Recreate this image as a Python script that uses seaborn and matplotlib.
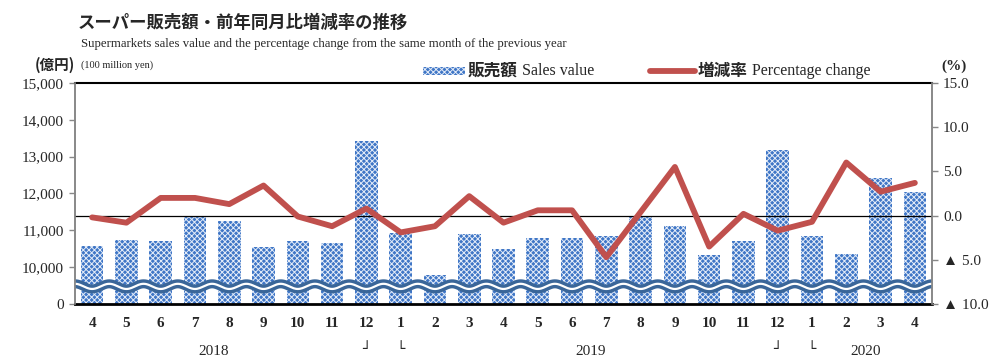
import numpy as np
import pandas as pd
import matplotlib
matplotlib.use("Agg")
import matplotlib.pyplot as plt
import matplotlib.ticker as mticker
from matplotlib.patches import Rectangle
from matplotlib.lines import Line2D
import seaborn as sns

# ---------------- data ----------------
months = ["4", "5", "6", "7", "8", "9", "10", "11", "12", "1", "2", "3",
          "4", "5", "6", "7", "8", "9", "10", "11", "12", "1", "2", "3", "4"]
sales = [10580, 10750, 10720, 11400, 11260, 10560, 10720, 10670, 13430,
         10940, 9780, 10910, 10500, 10800, 10780, 10860, 11350, 11130,
         10320, 10700, 13190, 10860, 10370, 12430, 12050]
pct = [-0.2, -0.8, 2.0, 2.0, 1.3, 3.4, -0.1, -1.2, 0.8, -1.9, -1.2, 2.2,
       -0.8, 0.6, 0.6, -4.7, 0.4, 5.5, -3.5, 0.2, -1.7, -0.7, 6.0, 2.7, 3.7]
years = ["2018", "2019", "2020"]
year_pos = [3.55, 14.55, 22.55]
left_ticks = [9000, 10000, 11000, 12000, 13000, 14000, 15000]
left_labels = ["0", "10,000", "11,000", "12,000", "13,000", "14,000", "15,000"]
right_ticks = [-10, -5, 0, 5, 10, 15]

title = "スーパー販売額・前年同月比増減率の推移"
subtitle = "Supermarkets sales value and the percentage change from the same month of the previous year"

BAR = "#3f76c6"
HATCH = "#e4ecf8"
RED = "#c0504d"

# ---------------- style ----------------
sns.set_theme(style="white")
plt.rcParams["font.family"] = ["Liberation Serif", "Noto Sans CJK JP", "DejaVu Sans"]
plt.rcParams["hatch.linewidth"] = 0.7

n = len(months)
df = pd.DataFrame({"pos": [str(i) for i in range(n)], "idx": np.arange(n),
                   "sales": sales, "pct": pct})

fig = plt.figure(figsize=(10, 3.62), dpi=100)
ax = fig.add_axes([0.075, 0.160, 0.857, 0.611])

sns.barplot(data=df, x="pos", y="sales", ax=ax, color=BAR,
            width=0.66, saturation=1)
for p in ax.patches:
    p.set_hatch("xxxxxx")
    p.set_edgecolor(HATCH)
    p.set_linewidth(0)
    p.set_facecolor(BAR)

ax.set_xlim(-0.5, n - 0.5)
ax.set_ylim(9000, 15000)
ax.set_yticks(left_ticks)
ax.set_yticklabels(left_labels)
ax.set_xticks(range(n))
ax.set_xticklabels(months, fontweight="bold")
ax.set_xlabel("")
ax.set_ylabel("")
ax.tick_params(axis="x", length=0, pad=9, labelsize=11)
ax.tick_params(axis="y", length=4, width=1, color="#888888", direction="out",
               labelsize=11, pad=4, left=True)

# wavy break lines
xw = np.linspace(-0.5, n - 0.5, 1200)
yw = 9480 - 70 * np.cos(2 * np.pi * xw)
ax.plot(xw, yw, color="#3a6699", lw=6.5, solid_capstyle="butt", zorder=5)
ax.plot(xw, yw, color="white", lw=1.6, solid_capstyle="butt", zorder=6)

for s in ["left", "right"]:
    ax.spines[s].set_color("#888888")
    ax.spines[s].set_linewidth(1.2)
ax.spines["top"].set_color("black")
ax.spines["top"].set_linewidth(1.5)
ax.spines["bottom"].set_color("black")
ax.spines["bottom"].set_linewidth(2)

ax2 = ax.twinx()
ax2.axhline(0, color="black", lw=0.9, zorder=1)
sns.lineplot(data=df, x="idx", y="pct", ax=ax2, color=RED, lw=4.2,
             sort=False, zorder=4)
ax2.set_ylim(-10, 15)
ax2.set_yticks(right_ticks)
ax2.yaxis.set_major_formatter(mticker.FuncFormatter(
    lambda v, _: f"▲ {abs(v):.1f}" if v < 0 else f"{v:.1f}"))
ax2.set_xlabel("")
ax2.set_ylabel("")
ax2.tick_params(axis="y", length=4, width=1, color="#888888", direction="out",
                labelsize=11, pad=4, right=True)
for s in ["left", "right"]:
    ax2.spines[s].set_color("#888888")
    ax2.spines[s].set_linewidth(1.2)
ax2.spines["top"].set_visible(False)
ax2.spines["bottom"].set_visible(False)
ax.set_xlim(-0.5, n - 0.5)
ax2.set_xlim(-0.5, n - 0.5)

# year labels and boundary marks
trans = matplotlib.transforms.blended_transform_factory(ax.transData, fig.transFigure)
for yl, xp in zip(years, year_pos):
    ax.text(xp, 0.03, yl, transform=trans, ha="center", va="center", fontsize=11)
for xp, mark in [(8, "┘"), (9, "└"), (20, "┘"), (21, "└")]:
    ax.text(xp, 0.035, mark, transform=trans, ha="center", va="center",
            fontsize=10, family="DejaVu Sans")

# titles
fig.text(0.078, 0.938, title, fontsize=12.5, fontweight="bold",
         family=["Noto Sans CJK JP"], ha="left", va="center")
fig.text(0.081, 0.879, subtitle, fontsize=9.2, ha="left", va="center",
         family=["Liberation Serif"])
fig.text(0.075, 0.822, "(億円)", fontsize=10.5, fontweight="bold",
         family=["Noto Sans CJK JP"], ha="right", va="center")
fig.text(0.081, 0.820, "(100 million yen)", fontsize=7.5, ha="left", va="center",
         family=["Liberation Serif"])
fig.text(0.954, 0.818, "(%)", fontsize=11, fontweight="bold", ha="center",
         va="center", family=["Liberation Serif"])

# legend (drawn manually: bold CJK + regular Latin)
ly = 1 - 71 / 362
fig.patches.append(Rectangle((0.423, ly - 0.012), 0.042, 0.024,
                             transform=fig.transFigure, facecolor=BAR,
                             edgecolor=HATCH, hatch="xxxxxx", linewidth=0))
fig.lines.append(Line2D([0.650, 0.695], [ly, ly], transform=fig.transFigure,
                        color=RED, lw=4.2, solid_capstyle="round"))
fig.text(0.468, ly, "販売額", fontsize=12, fontweight="bold",
         family=["Noto Sans CJK JP"], ha="left", va="center")
fig.text(0.522, ly, "Sales value", fontsize=11.5, ha="left", va="center",
         family=["Liberation Serif"])
fig.text(0.698, ly, "増減率", fontsize=12, fontweight="bold",
         family=["Noto Sans CJK JP"], ha="left", va="center")
fig.text(0.752, ly, "Percentage change", fontsize=11.5, ha="left", va="center",
         family=["Liberation Serif"])

fig.savefig("out.png", dpi=100)
